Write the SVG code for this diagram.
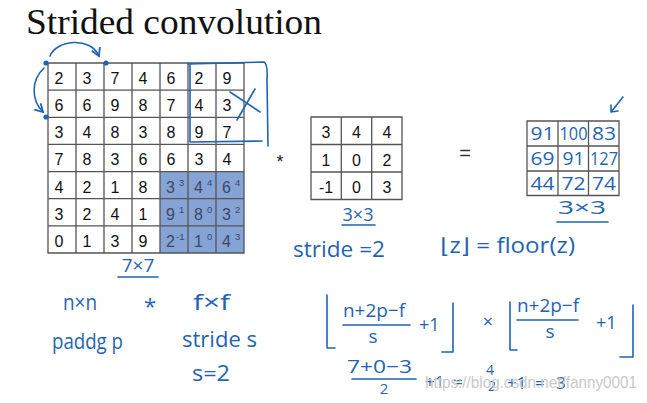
<svg xmlns="http://www.w3.org/2000/svg" width="647" height="403" viewBox="0 0 647 403">
<style>
.g{fill:none;stroke:#555;stroke-width:1.3}
.n{font-family:"Liberation Sans",Arial,sans-serif;font-size:16px;fill:#111}
.s{font-family:"Liberation Sans",Arial,sans-serif;font-size:16px;fill:#3b4868}
.sup{font-family:"Liberation Sans",Arial,sans-serif;font-size:9.5px;fill:#3b4868}
.h{font-family:"Open Sans","DejaVu Sans",sans-serif;fill:#1f64b4}
.pen{fill:none;stroke:#1f64b4;stroke-width:1.6;stroke-linecap:round;stroke-linejoin:round}
.dot{fill:#1f64b4}
</style>
<defs>
<marker id="ah" viewBox="0 0 10 10" refX="8" refY="5" markerWidth="7" markerHeight="7" orient="auto">
<path d="M1,1 L8,5 L1,9" fill="none" stroke="#1f64b4" stroke-width="1.6"/>
</marker>
</defs>
<rect width="647" height="403" fill="#fff"/>

<g id="title">
<text x="26" y="34" font-family="'Liberation Serif','Times New Roman',serif" font-size="36" fill="#111" textLength="296" lengthAdjust="spacingAndGlyphs">Strided convolution</text>
</g>

<g id="input-grid">
<rect x="160" y="171.6" width="84" height="81.4" fill="#86a3d6"/>
<path class="g" d="M48,63H244V253H48Z M76,63V253 M104,63V253 M132,63V253 M160,63V253 M188,63V253 M216,63V253 M48,90.1H244 M48,117.3H244 M48,144.4H244 M48,171.6H244 M48,198.7H244 M48,225.9H244"/>
<g class="n">
<text x="54.5" y="84">2</text><text x="82.5" y="84">3</text><text x="110.5" y="84">7</text><text x="138.5" y="84">4</text><text x="166.5" y="84">6</text><text x="194.5" y="84">2</text><text x="222.5" y="84">9</text>
<text x="54.5" y="111.1">6</text><text x="82.5" y="111.1">6</text><text x="110.5" y="111.1">9</text><text x="138.5" y="111.1">8</text><text x="166.5" y="111.1">7</text><text x="194.5" y="111.1">4</text><text x="222.5" y="111.1">3</text>
<text x="54.5" y="138.3">3</text><text x="82.5" y="138.3">4</text><text x="110.5" y="138.3">8</text><text x="138.5" y="138.3">3</text><text x="166.5" y="138.3">8</text><text x="194.5" y="138.3">9</text><text x="222.5" y="138.3">7</text>
<text x="54.5" y="165.4">7</text><text x="82.5" y="165.4">8</text><text x="110.5" y="165.4">3</text><text x="138.5" y="165.4">6</text><text x="166.5" y="165.4">6</text><text x="194.5" y="165.4">3</text><text x="222.5" y="165.4">4</text>
<text x="54.5" y="192.6">4</text><text x="82.5" y="192.6">2</text><text x="110.5" y="192.6">1</text><text x="138.5" y="192.6">8</text>
<text x="54.5" y="219.7">3</text><text x="82.5" y="219.7">2</text><text x="110.5" y="219.7">4</text><text x="138.5" y="219.7">1</text>
<text x="54.5" y="246.9">0</text><text x="82.5" y="246.9">1</text><text x="110.5" y="246.9">3</text><text x="138.5" y="246.9">9</text>
</g>
<g class="s">
<text x="166" y="192.6">3</text><text x="194" y="192.6">4</text><text x="222" y="192.6">6</text>
<text x="166" y="219.7">9</text><text x="194" y="219.7">8</text><text x="222" y="219.7">3</text>
<text x="166" y="246.9">2</text><text x="194" y="246.9">1</text><text x="222" y="246.9">4</text>
</g>
<g class="sup">
<text x="179" y="186">3</text><text x="207" y="186">4</text><text x="235" y="186">4</text>
<text x="179" y="213">1</text><text x="207" y="213">0</text><text x="235" y="213">2</text>
<text x="176" y="240">-1</text><text x="207" y="240">0</text><text x="235" y="240">3</text>
</g>
<text class="h" x="138" y="272" font-size="19" text-anchor="middle">7×7</text>
<path class="pen" d="M118,277H158"/>
</g>

<g id="stride-window">
<path class="pen" d="M188,64 L264,62 Q268,64 267,80 L268,146 M190,65 L190,142 L262,141"/>
<path class="pen" d="M230,92 L260,112 M255,89 L237,120"/>
</g>

<g id="connectors">
<path class="pen" d="M50,56 C56,40 90,36 99,56" marker-end="url(#ah)"/>
<path class="pen" d="M44,68 C31,80 31,100 43,112" marker-end="url(#ah)"/>
<circle class="dot" cx="46" cy="63" r="2.6"/>
<circle class="dot" cx="106" cy="63" r="2.6"/>
<circle class="dot" cx="46" cy="117" r="2.6"/>
</g>

<g id="op-conv">
<text x="280" y="168" font-family="'Liberation Sans',Arial,sans-serif" font-size="18" fill="#222" text-anchor="middle">*</text>
</g>

<g id="kernel">
<path class="g" d="M311,117H402V199.5H311Z M341.3,117V199.5 M371.7,117V199.5 M311,144.5H402 M311,172H402"/>
<g class="n" text-anchor="middle">
<text x="326" y="138">3</text><text x="356.5" y="138">4</text><text x="387" y="138">4</text>
<text x="326" y="165.5">1</text><text x="356.5" y="165.5">0</text><text x="387" y="165.5">2</text>
<text x="326" y="193">-1</text><text x="356.5" y="193">0</text><text x="387" y="193">3</text>
</g>
<text class="h" x="358" y="221" font-size="18" text-anchor="middle">3×3</text>
<path class="pen" d="M342,225H375"/>
<text class="h" x="293" y="257" font-size="21" textLength="92" lengthAdjust="spacingAndGlyphs">stride =2</text>
</g>

<g id="op-eq">
<text x="465" y="160" font-family="'Liberation Sans',Arial,sans-serif" font-size="20" fill="#333" text-anchor="middle">=</text>
</g>

<g id="output">
<path class="g" d="M527,121H619V195.5H527Z M558,121V195.5 M588.5,121V195.5 M527,146H619 M527,171H619"/>
<g class="h" font-size="18" text-anchor="middle">
<text x="542.5" y="140" textLength="24" lengthAdjust="spacingAndGlyphs">91</text><text x="573.5" y="140" textLength="28" lengthAdjust="spacingAndGlyphs">100</text><text x="604" y="140" textLength="24" lengthAdjust="spacingAndGlyphs">83</text>
<text x="542.5" y="165" textLength="24" lengthAdjust="spacingAndGlyphs">69</text><text x="573.5" y="165" textLength="22" lengthAdjust="spacingAndGlyphs">91</text><text x="604" y="165" textLength="28" lengthAdjust="spacingAndGlyphs">127</text>
<text x="542.5" y="189.5" textLength="24" lengthAdjust="spacingAndGlyphs">44</text><text x="573.5" y="189.5" textLength="24" lengthAdjust="spacingAndGlyphs">72</text><text x="604" y="189.5" textLength="24" lengthAdjust="spacingAndGlyphs">74</text>
</g>
<text class="h" x="582" y="214" font-size="19" text-anchor="middle" textLength="48" lengthAdjust="spacingAndGlyphs">3×3</text>
<path class="pen" d="M557,222H608"/>
<path class="pen" d="M623,97 L611,112 M611,112 L611,105 M611,112 L618,111"/>
</g>

<g id="floor-def">
<text class="h" x="440" y="253" font-size="21" textLength="135" lengthAdjust="spacingAndGlyphs">⌊z⌋ = floor(z)</text>
</g>

<g id="notation">
<text class="h" x="63" y="310" font-size="21" textLength="34" lengthAdjust="spacingAndGlyphs">n×n</text>
<text class="h" x="150" y="314" font-size="22" text-anchor="middle">*</text>
<text class="h" x="193" y="310" font-size="21" textLength="37" lengthAdjust="spacingAndGlyphs">f×f</text>
<text class="h" x="52" y="349" font-size="21" textLength="71" lengthAdjust="spacingAndGlyphs">paddg p</text>
<text class="h" x="182" y="347" font-size="21" textLength="75" lengthAdjust="spacingAndGlyphs">stride s</text>
<text class="h" x="192" y="381" font-size="21" textLength="38" lengthAdjust="spacingAndGlyphs">s=2</text>
</g>

<g id="formula">
<path class="pen" d="M327,295V348H335 M453,303V352H442 M510,302V350H517 M633,305V357H620"/>
<text class="h" x="343" y="317" font-size="19" textLength="62" lengthAdjust="spacingAndGlyphs">n+2p−f</text>
<path class="pen" d="M343,325H410"/>
<text class="h" x="373" y="343" font-size="19" text-anchor="middle">s</text>
<text class="h" x="419" y="331" font-size="18">+1</text>
<text class="h" x="488" y="328" font-size="18" text-anchor="middle">×</text>
<text class="h" x="517" y="312" font-size="19" textLength="62" lengthAdjust="spacingAndGlyphs">n+2p−f</text>
<path class="pen" d="M517,320H578"/>
<text class="h" x="550" y="338" font-size="19" text-anchor="middle">s</text>
<text class="h" x="596" y="329" font-size="18">+1</text>
<text class="h" x="347" y="373" font-size="18" textLength="65" lengthAdjust="spacingAndGlyphs">7+0−3</text>
<path class="pen" d="M352,379H416"/>
<text class="h" x="384" y="394" font-size="15" text-anchor="middle">2</text>
<text class="h" x="425" y="388" font-size="17">+1</text>
<text class="h" x="453" y="388" font-size="17">=</text>
<text class="h" x="490" y="375" font-size="14" text-anchor="middle">4</text>
<text class="h" x="492" y="391" font-size="14" text-anchor="middle">2</text>
<text class="h" x="507" y="389" font-size="17">+1</text>
<text class="h" x="535" y="389" font-size="17">=</text>
<text class="h" x="556" y="389" font-size="17">3</text>
</g>

<g id="watermark">
<text x="425" y="388" font-family="'Liberation Sans',Arial,sans-serif" font-size="17" fill="#c9c9c9" textLength="212" lengthAdjust="spacingAndGlyphs">https://blog.csdn.net/fanny0001</text>
</g>
</svg>
